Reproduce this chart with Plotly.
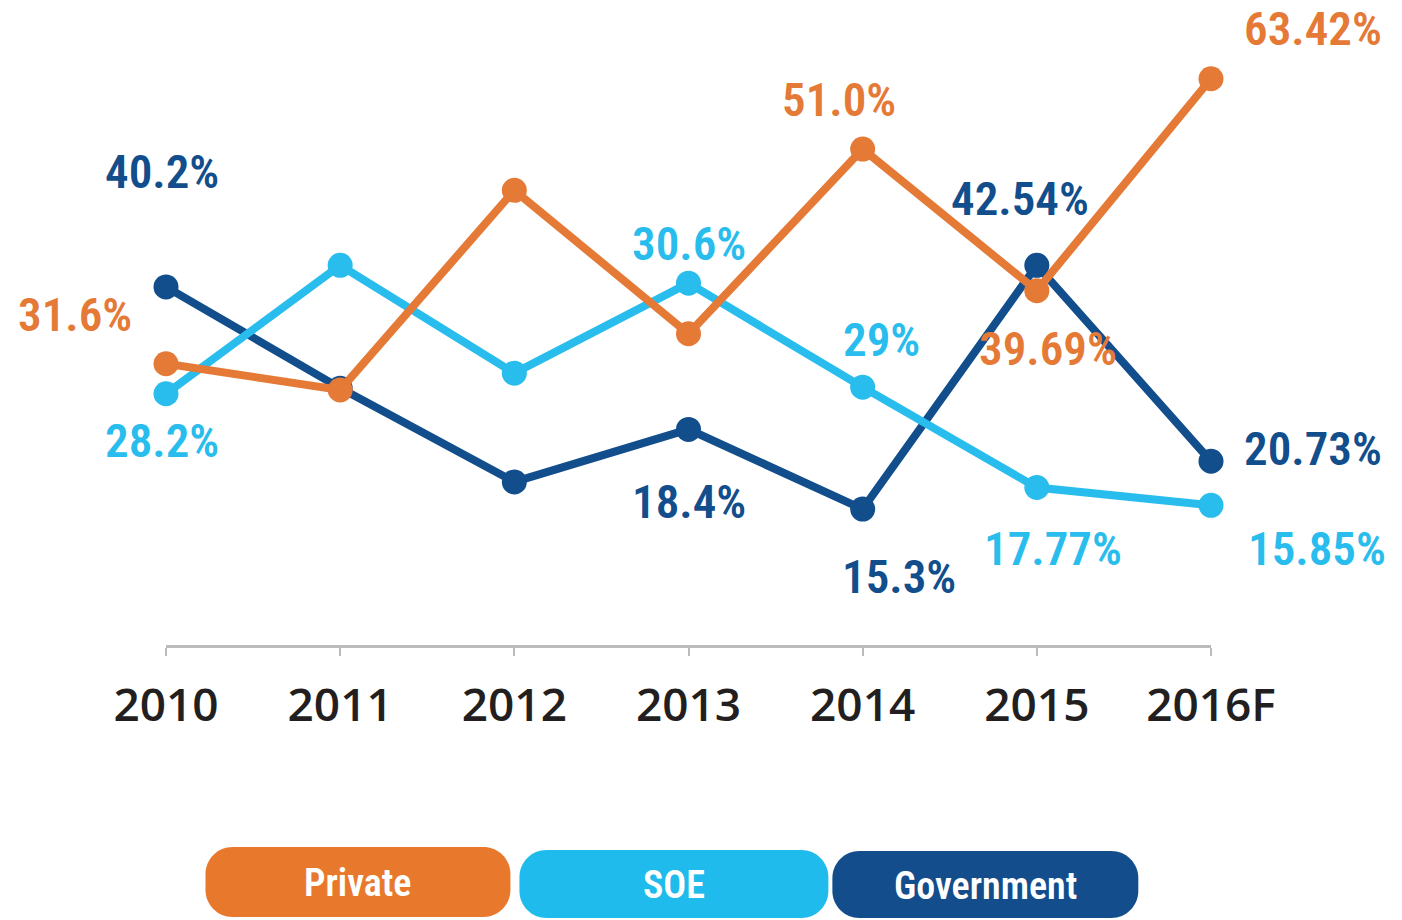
import plotly.graph_objects as go

# ---------------- data ----------------
years = ["2010", "2011", "2012", "2013", "2014", "2015", "2016F"]

# plotted levels (implied % axis, 0 at the baseline)
private_vals = [30.0, 27.2, 48.5, 33.2, 52.9, 37.8, 60.4]
soe_vals = [26.8, 40.5, 29.0, 38.6, 27.5, 16.8, 14.9]
gov_vals = [38.2, 27.4, 17.4, 23.0, 14.5, 40.5, 19.6]

# printed labels (None = no label)
private_labels = ["31.6%", None, None, None, "51.0%", "39.69%", "63.42%"]
soe_labels = ["28.2%", None, None, "30.6%", "29%", "17.77%", "15.85%"]
gov_labels = ["40.2%", None, None, "18.4%", "15.3%", "42.54%", "20.73%"]

series_names = ["Private", "SOE", "Government"]

# ---------------- styles / positions ----------------
W, H = 1402, 920
L, R_EDGE, TOP, BASE = 165.5, 1210.7, 45, 645
line_cols = {"Private": "#E57A37", "SOE": "#29BDED", "Government": "#124E8C"}
legend_cols = {"Private": "#E8792C", "SOE": "#1FBBEC", "Government": "#134D8B"}

# label offsets in px (dx right, dy down) relative to each point
private_off = [(-91, -49), None, None, None, (-24, -50), (11, 58), (102, -50)]
soe_off = [(-4, 47), None, None, (0, -40), (19, -48), (16, 61), (106, 43)]
gov_off = [(-4, -115), None, None, (0, 72), (36, 67), (-17, -67), (102, -13)]

LABEL_FONT = "Liberation Sans Narrow, Roboto Condensed, DejaVu Sans Condensed, Roboto, sans-serif"

fig = go.Figure()

data = {
    "Private": (private_vals, private_labels, private_off),
    "SOE": (soe_vals, soe_labels, soe_off),
    "Government": (gov_vals, gov_labels, gov_off),
}

for name in ["Government", "SOE", "Private"]:
    vals, _, _ = data[name]
    fig.add_trace(go.Scatter(
        x=years, y=vals, mode="lines+markers", name=name,
        line=dict(color=line_cols[name], width=8),
        marker=dict(color=line_cols[name], size=25),
        cliponaxis=False, showlegend=False, hoverinfo="skip",
    ))

annotations = []
for name in ["Government", "SOE", "Private"]:
    vals, labs, offs = data[name]
    for i, (yv, lab, off) in enumerate(zip(vals, labs, offs)):
        if lab is None:
            continue
        annotations.append(dict(
            x=i, y=yv, xref="x", yref="y", text=lab, showarrow=False,
            xshift=off[0], yshift=-off[1], xanchor="center", yanchor="middle",
            font=dict(family=LABEL_FONT, size=47, color=line_cols[name], weight=600),
        ))

# legend pills (drawn as shapes in paper coords)
pw = R_EDGE - L
ph = BASE - TOP


def px(xp):
    return (xp - L) / pw


def py(yp):
    return (BASE - yp) / ph


def pill_path(x0, y0, x1, y1, r):
    k = 0.5523 * r
    pts = [
        ("M", (x0 + r, y0)),
        ("L", (x1 - r, y0)),
        ("C", (x1 - r + k, y0), (x1, y0 + r - k), (x1, y0 + r)),
        ("L", (x1, y1 - r)),
        ("C", (x1, y1 - r + k), (x1 - r + k, y1), (x1 - r, y1)),
        ("L", (x0 + r, y1)),
        ("C", (x0 + r - k, y1), (x0, y1 - r + k), (x0, y1 - r)),
        ("L", (x0, y0 + r)),
        ("C", (x0, y0 + r - k), (x0 + r - k, y0), (x0 + r, y0)),
    ]
    s = ""
    for seg in pts:
        cmd = seg[0]
        coords = " ".join(f"{px(a):.5f},{py(b):.5f}" for a, b in seg[1:])
        s += f"{cmd} {coords} "
    return s + "Z"


# pixel boxes of the legend pills
legend_boxes = {
    "Private": (205, 847, 510, 917),
    "SOE": (519, 850, 828, 918),
    "Government": (832, 851, 1138, 918),
}
shapes = []
for name in series_names:
    x0, y0, x1, y1 = legend_boxes[name]
    shapes.append(dict(type="path", xref="paper", yref="paper",
                       path=pill_path(x0, y0, x1, y1, 27),
                       fillcolor=legend_cols[name], line=dict(width=0), layer="above"))
    annotations.append(dict(
        x=px((x0 + x1) / 2), y=py((y0 + y1) / 2 + 1), xref="paper", yref="paper",
        text=name, showarrow=False, xanchor="center", yanchor="middle",
        font=dict(family=LABEL_FONT, size=38, color="white", weight=600),
    ))

fig.update_layout(
    width=W, height=H,
    margin=dict(l=L, r=W - R_EDGE, t=TOP, b=H - BASE, pad=0),
    paper_bgcolor="white", plot_bgcolor="white",
    annotations=annotations, shapes=shapes,
    xaxis=dict(
        type="category", categoryorder="array", categoryarray=years,
        range=[0, 6], showgrid=False, zeroline=False,
        showline=True, linecolor="#BBBBBB", linewidth=3,
        ticks="outside", ticklen=8, tickwidth=2, tickcolor="#BBBBBB",
        tickfont=dict(family="Open Sans, sans-serif", size=46, color="#231F20", weight=600),
        ticklabelstandoff=10,
    ),
    yaxis=dict(range=[0, 64], visible=False, showgrid=False, zeroline=False),
)

fig.write_html(
    "out.html",
    config={"displayModeBar": False, "staticPlot": True},
    post_script="document.body.style.margin='0';document.body.style.overflow='hidden';",
)
